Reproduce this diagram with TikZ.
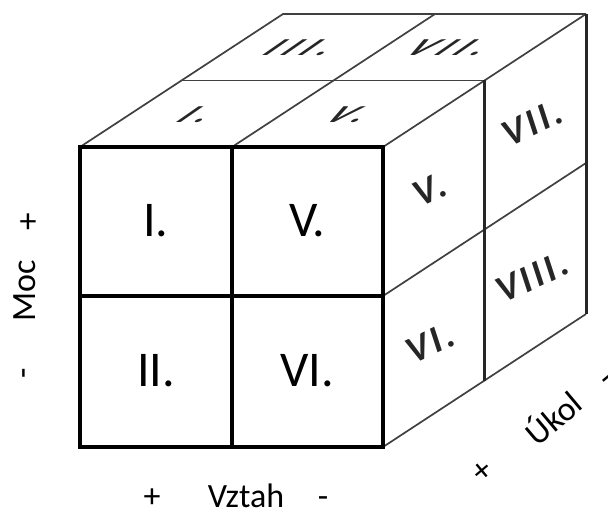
\documentclass[tikz,border=0pt]{standalone}
\usepackage{fontspec}
\setmainfont{Carlito}
\usetikzlibrary{calc}

\begin{document}
\begin{tikzpicture}[
  x=1pt, y=1pt,
  front/.style={draw=black, line width=3.2pt, line join=miter},
  face/.style={draw=black!75, line width=1.7pt},
  ridge/.style={draw=black!85, line width=3pt},
  cell/.style={font=\fontsize{50}{50}\selectfont, inner sep=0pt},
  topnum/.style={font=\fontsize{38}{38}\selectfont\bfseries\itshape\addfontfeatures{LetterSpace=20}, text=black!85, cm={1,0,0.8,0.64,(0,0)}, inner sep=0pt},
  sidenum/.style={font=\fontsize{38}{38}\selectfont\bfseries\itshape\addfontfeatures{LetterSpace=8}, text=black!85, rotate=25, inner sep=0pt},
  axis/.style={font=\fontsize{34}{34}\selectfont, inner sep=0pt}
]
  \useasboundingbox (0,0) rectangle (608,512);

  % Corners
  \coordinate (d) at (203,133);
  \coordinate (fbl) at (80,65);
  \coordinate (fbr) at (383,65);
  \coordinate (ftl) at (80,365);
  \coordinate (ftr) at (383,365);
  \coordinate (ftm) at (232,365);
  \coordinate (fbm) at (232,65);
  \coordinate (flm) at (80,216);
  \coordinate (frm) at (383,216);
  \coordinate (btl) at ($(ftl)+(d)$);
  \coordinate (btr) at ($(ftr)+(d)$);
  \coordinate (bbr) at ($(fbr)+(d)$);

  % Top face
  \draw[face] (ftl) -- (btl) -- (btr);
  \draw[face] (ftm) -- ($(ftm)+(d)$);
  \draw[face] ($(ftl)!.5!(btl)$) -- ($(ftr)!.5!(btr)$);
  \draw[face] (ftr) -- (btr);

  % Right face
  \draw[face] (fbr) -- (bbr);
  \draw[face] (frm) -- ($(frm)+(d)$);
  \draw[ridge] (btr) -- (bbr);
  \draw[ridge] ($(ftr)!.5!(btr)$) -- ($(fbr)!.5!(bbr)$);

  % Front face
  \draw[front] (fbl) rectangle (ftr);
  \draw[front] (ftm) -- (fbm);
  \draw[front] (flm) -- (frm);

  % Cells
  \node[cell] (c1) at (156,291) {I.};
  \node[cell] (c5) at (307,291) {V.};
  \node[cell] (c2) at (156,141) {II.};
  \node[cell] (c6) at (307,141) {VI.};

  \node[topnum] (t3) at (302,464) {III.};
  \node[topnum] (t7) at (450,464) {VII.};
  \node[topnum] (t1) at (198,397) {I.};
  \node[topnum] (t5) at (350,397) {V.};

  \node[sidenum] (s7) at (532,389) {VII.};
  \node[sidenum] (s5) at (430,322) {V.};
  \node[sidenum] (s8) at (532,235) {VIII.};
  \node[sidenum] (s6) at (430,169) {VI.};

  % Axes
  \node[axis, rotate=90] (moc) at (25,221) {Moc};
  \node[axis] (mocplus) at (28,289) {+};
  \node[axis, rotate=90] (mocminus) at (28,139) {-};

  \node[axis, anchor=base] (vztah) at (246,5) {Vztah};
  \node[axis, anchor=base] (vztahplus) at (152,5) {+};
  \node[axis, anchor=base] (vztahminus) at (323,5) {-};

  \node[axis, rotate=40] (ukol) at (552,95) {Úkol};
  \node[axis, rotate=40] (ukolplus) at (483,40) {+};
  \node[axis, rotate=40] (ukolminus) at (609,130) {-};
\end{tikzpicture}
\end{document}
